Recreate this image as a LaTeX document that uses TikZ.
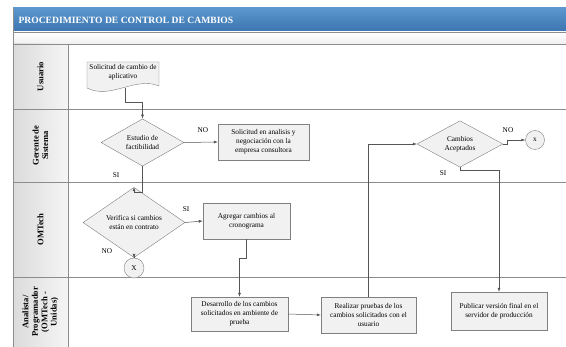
\documentclass[tikz,border=0pt]{standalone}
\usepackage{fontspec}
\setmainfont{Liberation Serif}
\usetikzlibrary{shapes.geometric,arrows.meta}

\definecolor{barblue}{HTML}{4A86C1}
\definecolor{barbluetop}{HTML}{5C97CF}
\definecolor{barbluebot}{HTML}{3B74AE}
\definecolor{boxfill}{HTML}{F1F1F1}
\definecolor{boxline}{HTML}{808080}
\definecolor{lineclr}{HTML}{555555}
\definecolor{laneline}{HTML}{8C8C8C}

\tikzset{
  txt/.style={font=\fontsize{7.3}{9}\selectfont},
  proc/.style={txt, draw=boxline, fill=boxfill, align=center, inner sep=1pt},
  decision/.style={txt, diamond, draw=boxline, fill=boxfill, align=center, inner sep=0pt},
  endpt/.style={txt, circle, draw=boxline, fill=boxfill, inner sep=0pt},
  flow/.style={draw=lineclr, line width=0.5pt, -{Latex[length=4pt,width=3pt]}},
  lbl/.style={font=\fontsize{7.3}{9}\selectfont},
  lanelbl/.style={rotate=90, align=center, font=\fontsize{8.6}{9.4}\selectfont\bfseries}
}

\begin{document}
\begin{tikzpicture}[x=1pt,y=-1pt]
  \useasboundingbox (0,0) rectangle (566,347);
  % title bar and strip below it
  \shade[top color=barbluetop, bottom color=barbluebot] (13,8) rectangle (566,32);
  \shade[top color=white, bottom color=gray!12] (13,32) rectangle (566,44);
  \node[anchor=west, text=white, font=\fontsize{9.6}{10}\selectfont\bfseries] (title) at (15,20.5)
    {PROCEDIMIENTO DE CONTROL DE CAMBIOS};
  % lane label column
  \shade[left color=gray!28, right color=gray!8] (13,44) rectangle (68,347);
  \draw[laneline] (13,32) -- (566,32);
  \draw[laneline] (13,8) -- (13,347);
  \draw[laneline] (68,44) -- (68,347);
  \foreach \yy in {44,109,182,277}
    \draw[laneline] (13,\yy) -- (566,\yy);
  % lane names
  \node[lanelbl] (lusuario) at (40.5,76.5) {Usuario};
  \node[lanelbl] (lgerente) at (40.5,145.5) {Gerente de\\Sistema};
  \node[lanelbl] (lomtech) at (40.5,229.5) {OMTech};
  \node[lanelbl] (lanalista) at (40.5,312) {Analista/\\Programador\\(OMTech -\\Unidas)};

  % document shape (request)
  \draw[draw=boxline, fill=boxfill] (87,62) -- (159,62) -- (159,86)
    .. controls (135,76) and (111,100) .. (87,88) -- cycle;
  \node[txt, align=center] (solicitud) at (123,72.5) {Solicitud de cambio de\\aplicativo};
  \coordinate (docbot) at (125,88);

  % decisions
  \node[decision, minimum width=83pt, minimum height=35pt] (estudio) at (142.5,142.5)
    {Estudio de\\factibilidad};
  \node[decision, minimum width=102pt, minimum height=51pt] (verifica) at (134,222.5)
    {Verifica si cambios\\están en contrato};
  \node[decision, minimum width=86pt, minimum height=39pt] (aceptados) at (460,144)
    {Cambios\\Aceptados};

  % process boxes
  \node[proc, minimum width=91pt, minimum height=36pt] (analisis) at (263.5,142)
    {Solicitud en analisis y\\negociación con la\\empresa consultora};
  \node[proc, minimum width=87pt, minimum height=36pt] (agregar) at (246.5,221)
    {Agregar cambios al\\cronograma};
  \node[proc, minimum width=97pt, minimum height=34pt] (desarrollo) at (239.5,314)
    {Desarrollo de los cambios\\solicitados en ambiente de\\prueba};
  \node[proc, minimum width=95pt, minimum height=36pt] (pruebas) at (368.5,315)
    {Realizar pruebas de los\\cambios solicitados con el\\usuario};
  \node[proc, minimum width=96pt, minimum height=38pt] (publicar) at (499,311)
    {Publicar versión final en el\\servidor de producción};

  % end points
  \node[endpt, minimum size=20pt] (finomt) at (134,268) {X};
  \node[endpt, minimum size=19pt] (fincamb) at (535,140) {x};

  % connectors
  \draw[flow] (docbot) -- ++(0,14) -| (estudio.north);
  \draw[flow] (estudio.east) -- (analisis.west);
  \draw[flow] (estudio.south) -- ++(0,26) -| (verifica.north);
  \draw[flow] (verifica.east) -- (agregar.west);
  \draw[flow] (verifica.south) -- (finomt.north);
  \draw[flow] (agregar.south) -- ++(0,19) -| (desarrollo.north);
  \draw[flow] (desarrollo.east) -- (pruebas.west);
  \draw[flow] (pruebas.north) |- (aceptados.west);
  \draw[flow] (aceptados.east) -- ++(4,0) |- (fincamb.west);
  \draw[flow] (aceptados.south) -- ++(0,3) -| (publicar.north);

  % branch labels
  \node[lbl] (noestudio) at (203,130) {NO};
  \node[lbl] (siestudio) at (116,175) {SI};
  \node[lbl] (siverifica) at (186,209) {SI};
  \node[lbl] (noverifica) at (107,251) {NO};
  \node[lbl] (noaceptados) at (508,130) {NO};
  \node[lbl] (siaceptados) at (443,173) {SI};
\end{tikzpicture}
\end{document}
